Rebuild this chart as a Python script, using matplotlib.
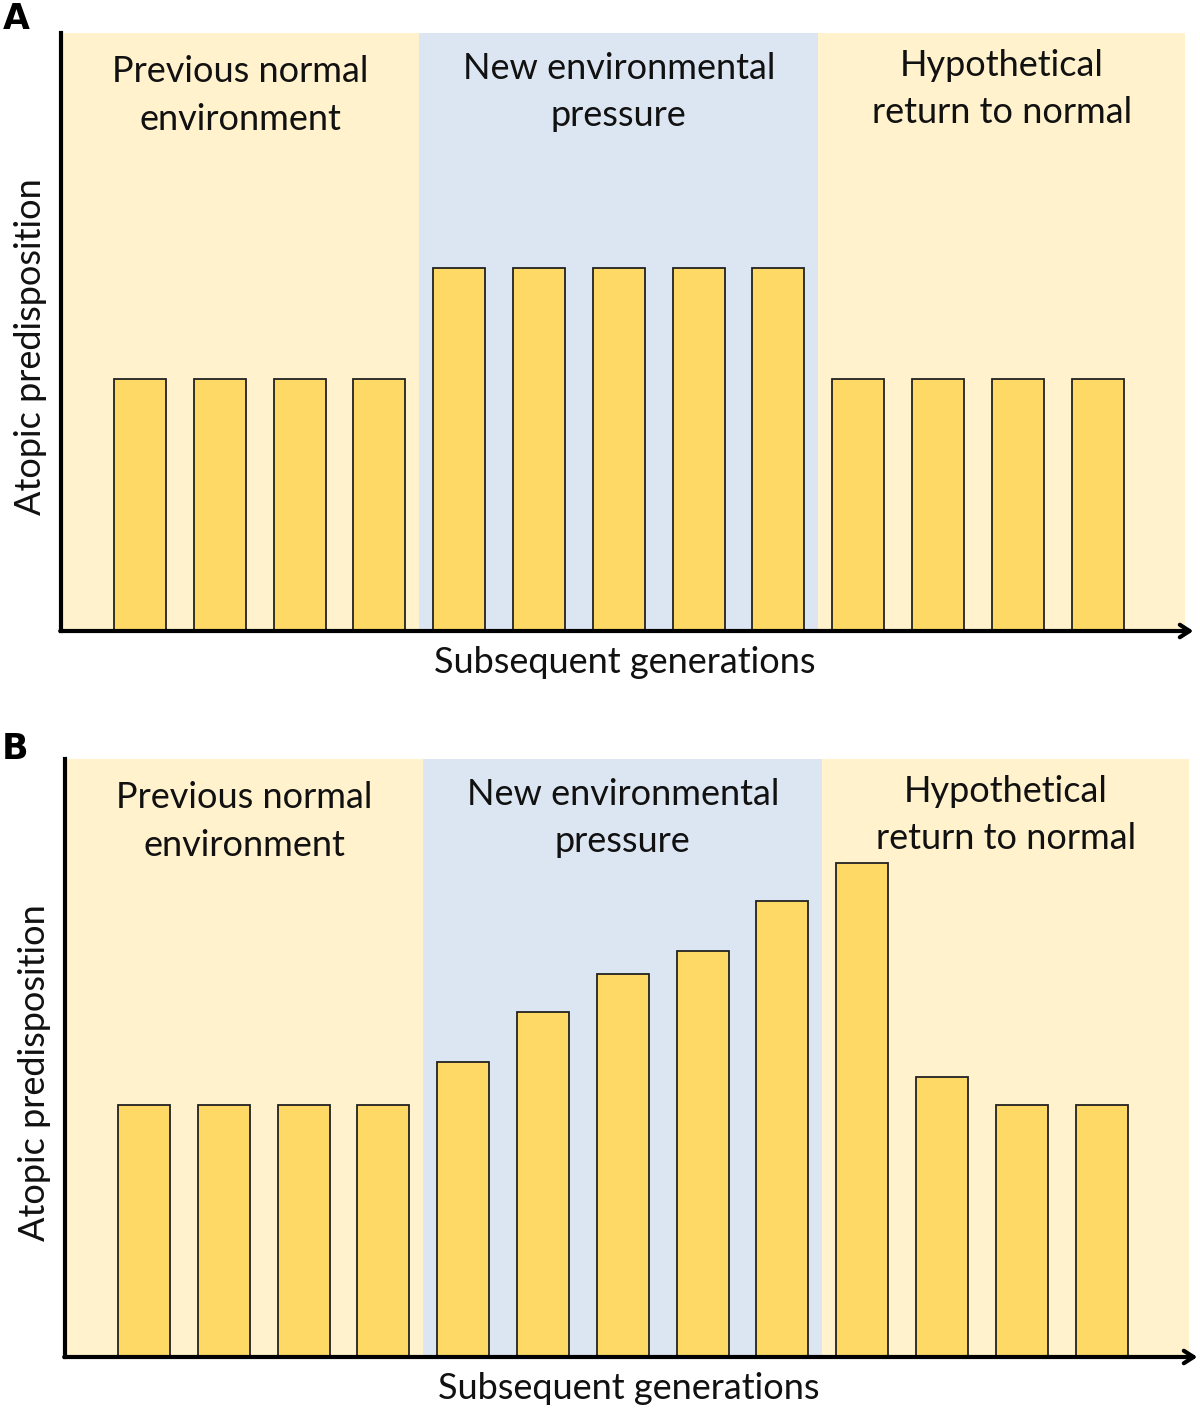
import matplotlib.pyplot as plt

plt.rcParams["font.family"] = ["Lato", "DejaVu Sans"]

GENERATIONS = list(range(13))
HEIGHTS_A = [1.0, 1.0, 1.0, 1.0, 1.44, 1.44, 1.44, 1.44, 1.44, 1.0, 1.0, 1.0, 1.0]
HEIGHTS_B = [1.0, 1.0, 1.0, 1.0, 1.17, 1.37, 1.52, 1.61, 1.81, 1.96, 1.11, 1.0, 1.0]

PHASE_LABELS = ["Previous normal\nenvironment", "New environmental\npressure",
                "Hypothetical\nreturn to normal"]
PHASE_EDGES = [-0.99, 3.5, 8.5, 13.1]
LABEL_Y = [2.125, 2.14, 2.15]

CREAM = "#FFF2CC"
BLUE = "#DCE6F2"
BAR = "#FFD966"
TOP = 2.373
FS = 26


def panel(fig, rect, heights, letter, letter_xy):
    ax = fig.add_axes(rect)
    ax.set_xlim(-0.99, 13.22)
    ax.set_ylim(0, TOP)

    colors = [CREAM, BLUE, CREAM]
    for i in range(3):
        ax.axvspan(PHASE_EDGES[i], PHASE_EDGES[i + 1], ymin=0, ymax=1,
                   facecolor=colors[i], edgecolor="none", zorder=0)
        cx = (PHASE_EDGES[i] + PHASE_EDGES[i + 1]) / 2
        ax.text(cx, LABEL_Y[i], PHASE_LABELS[i], ha="center", va="center",
                fontsize=FS, linespacing=1.52, color="#111111")

    ax.bar(GENERATIONS, heights, width=0.65, color=BAR, edgecolor="#222222",
           linewidth=1.3, zorder=2)

    for s in ["top", "right", "bottom"]:
        ax.spines[s].set_visible(False)
    ax.spines["left"].set_linewidth(3)
    ax.spines["left"].set_color("black")
    ax.set_xticks([])
    ax.set_yticks([])

    # x axis with open arrowhead
    ax.annotate("", xy=(13.2, 0), xytext=(-1.0, 0),
                arrowprops=dict(arrowstyle="->,head_length=0.7,head_width=0.45",
                                lw=3, color="black", shrinkA=0, shrinkB=0),
                annotation_clip=False, zorder=5)

    ax.text(-0.027, 0.475, "Atopic predisposition", transform=ax.transAxes,
            rotation=90, ha="center", va="center", fontsize=FS, color="#111111")
    ax.text(6.07, -0.125, "Subsequent generations", ha="center", va="center",
            fontsize=FS, color="#111111")

    fig.text(letter_xy[0], letter_xy[1], letter, fontsize=25, fontweight="bold",
             ha="left", va="center", family="DejaVu Sans")
    return ax


def main():
    fig = plt.figure(figsize=(12, 14.1), dpi=100)
    panel(fig, [61 / 1200, 1 - 631 / 1410, 1134 / 1200, 598 / 1410],
          HEIGHTS_A, "A", (3 / 1200, 1 - 19 / 1410))
    panel(fig, [65 / 1200, 1 - 1357 / 1410, 1134 / 1200, 598 / 1410],
          HEIGHTS_B, "B", (2 / 1200, 1 - 749 / 1410))
    fig.savefig("out.png", dpi=100)
    plt.close(fig)


if __name__ == "__main__":
    main()
